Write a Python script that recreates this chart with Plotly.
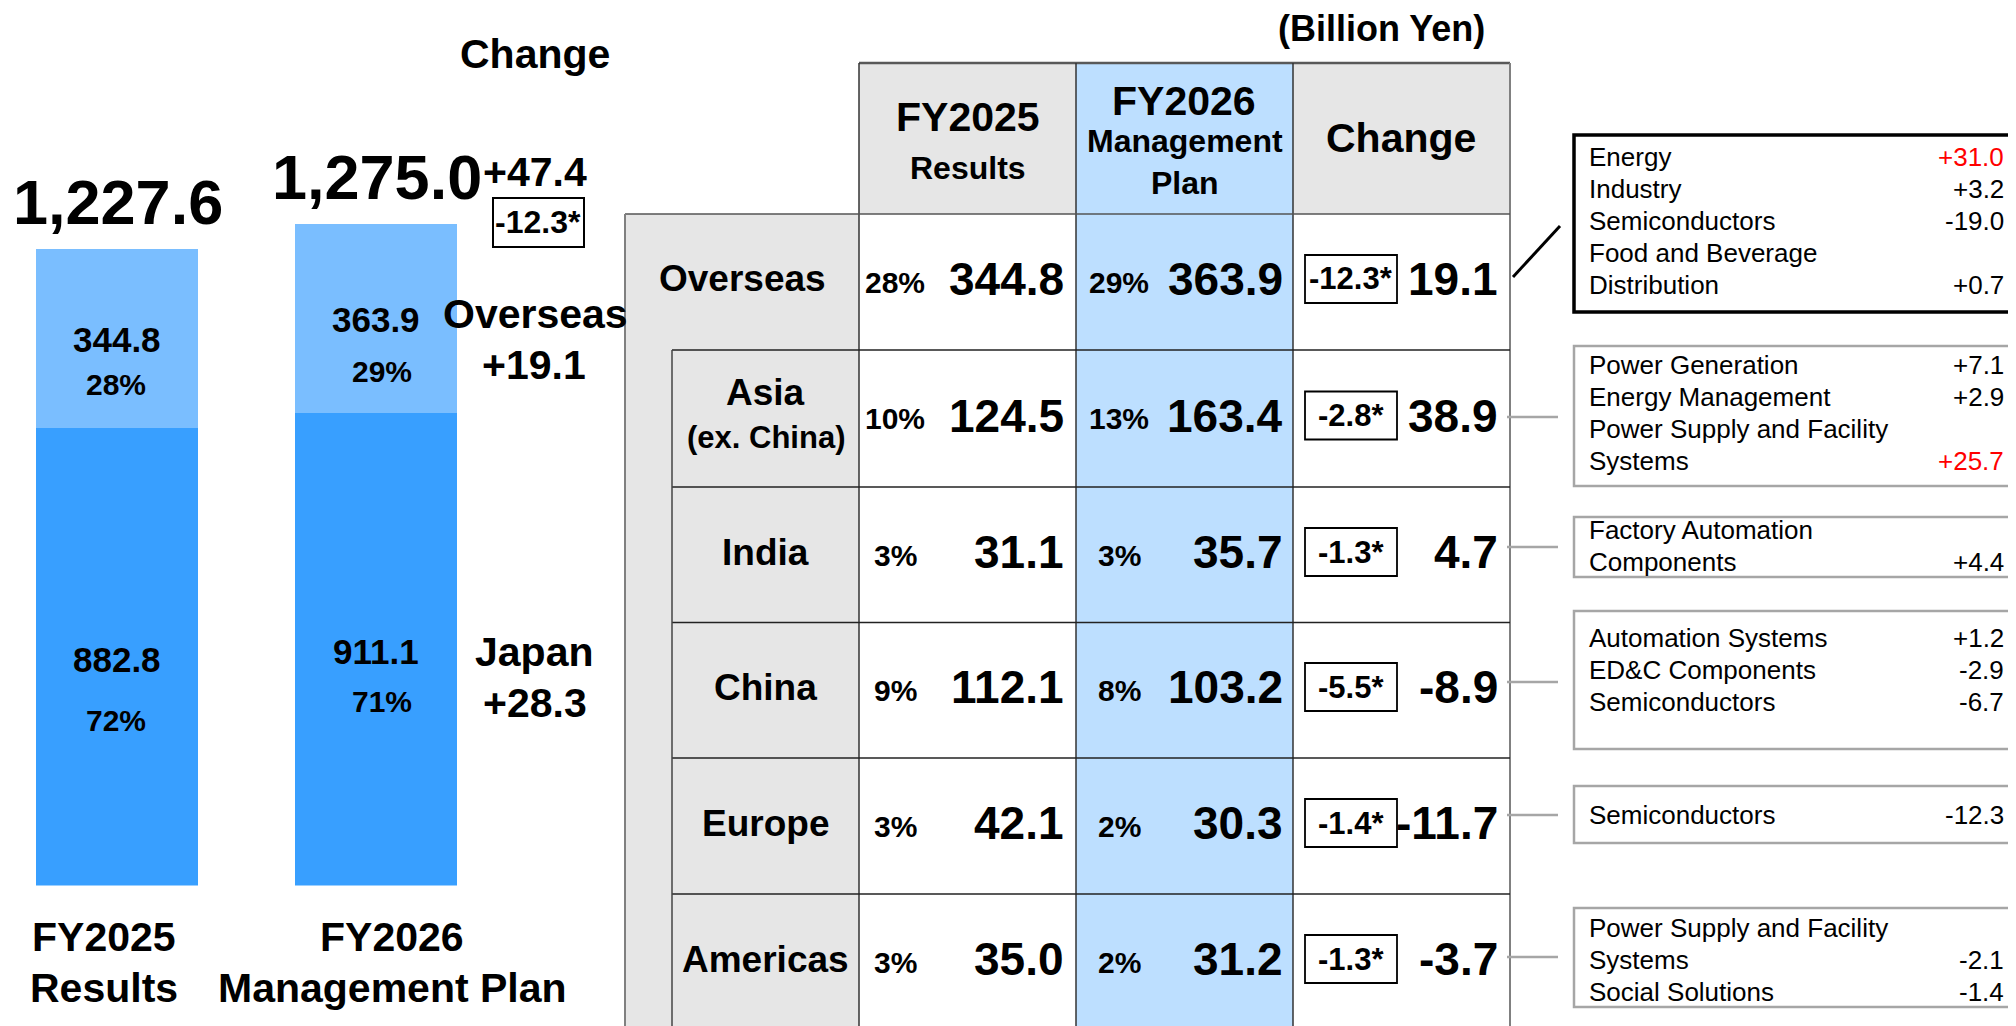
import plotly.graph_objects as go

# ---------------- data ----------------
bar_categories = ["FY2025<br>Results", "FY2026<br>Management Plan"]
japan_sales = [882.8, 911.1]
overseas_sales = [344.8, 363.9]
japan_share = [72, 71]
overseas_share = [28, 29]
total_sales = [1227.6, 1275.0]
total_change = 47.4
total_fx = -12.3
overseas_change = 19.1
japan_change = 28.3

regions = ["Overseas", "Asia", "India", "China", "Europe", "Americas"]
region_sub = ["", "(ex. China)", "", "", "", ""]
share_fy25 = [28, 10, 3, 9, 3, 3]
sales_fy25 = [344.8, 124.5, 31.1, 112.1, 42.1, 35.0]
share_fy26 = [29, 13, 3, 8, 2, 2]
sales_fy26 = [363.9, 163.4, 35.7, 103.2, 30.3, 31.2]
fx_impact = [-12.3, -2.8, -1.3, -5.5, -1.4, -1.3]
region_change = [19.1, 38.9, 4.7, -8.9, -11.7, -3.7]

segment_names = [
    ["Energy", "Industry", "Semiconductors", "Food and Beverage|Distribution"],
    ["Power Generation", "Energy Management", "Power Supply and Facility|Systems"],
    ["Factory Automation|Components"],
    ["Automation Systems", "ED&C Components", "Semiconductors"],
    ["Semiconductors"],
    ["Power Supply and Facility|Systems", "Social Solutions"],
]
segment_values = [
    [31.0, 3.2, -19.0, 0.7],
    [7.1, 2.9, 25.7],
    [4.4],
    [1.2, -2.9, -6.7],
    [-12.3],
    [-2.1, -1.4],
]
segment_highlight = [
    [True, False, False, False],
    [False, False, True],
    [False],
    [False, False, False],
    [False],
    [False, False],
]

# ---------------- styling / layout constants ----------------
PAGE_OFF = 8                      # default body margin of the html page
W, H = 2016 - PAGE_OFF, 1026 - PAGE_OFF
DARK_BLUE = "#389fff"
LIGHT_BLUE = "#7abeff"
TABLE_BLUE = "#bddfff"
GRAY = "#e6e6e6"
FONT = "Liberation Sans, Arial, sans-serif"


def px(x):
    return (x - PAGE_OFF) / W


def py(y):
    return 1 - (y - PAGE_OFF) / H


def fmt_signed(v):
    return f"{v:+.1f}"


fig = go.Figure()

# ---------------- stacked bars ----------------
BAR_W = 0.627
fig.add_trace(go.Bar(x=[0, 1], y=japan_sales, marker=dict(color=DARK_BLUE, line=dict(width=0)),
                     width=BAR_W, hoverinfo="skip", name="Japan"))
fig.add_trace(go.Bar(x=[0, 1], y=overseas_sales, marker=dict(color=LIGHT_BLUE, line=dict(width=0)),
                     width=BAR_W, hoverinfo="skip", name="Overseas"))

unit_px = 259.0
bar0_center = 117.0
x_lo, x_hi = -0.42, 1.45
y_bottom_px = 885.5
px_per_val = 0.5185
y_max = 1650

ann = []


def text(x, y, s, size, bold=True, color="black", xanchor="center", **kw):
    ann.append(dict(x=px(x), y=py(y), xref="paper", yref="paper", text=(f"<b>{s}</b>" if bold else s),
                    showarrow=False, xanchor=xanchor, yanchor="middle",
                    font=dict(size=size, color=color, family=FONT), **kw))


# labels inside bars (data coordinates)
num_shift = [[-1, -3], [-1, -2]]        # [bar][overseas, japan]
pct_shift = [[-46, -64], [-53, -52]]
pct_xshift = [-1, 6]
for i in range(2):
    segs = [(japan_sales[i] + overseas_sales[i] / 2, overseas_sales[i], overseas_share[i], 0),
            (japan_sales[i] / 2, japan_sales[i], japan_share[i], 1)]
    for mid, val, share, k in segs:
        ann.append(dict(x=i, y=mid, xref="x", yref="y", text=f"<b>{val:.1f}</b>", showarrow=False,
                        yanchor="middle", yshift=num_shift[i][k],
                        font=dict(size=35, family=FONT, color="black")))
        ann.append(dict(x=i, y=mid, xref="x", yref="y", text=f"<b>{share}%</b>", showarrow=False,
                        yanchor="middle", yshift=pct_shift[i][k], xshift=pct_xshift[i],
                        font=dict(size=30, family=FONT, color="black")))
    ann.append(dict(x=i, y=total_sales[i], xref="x", yref="y", text=f"<b>{total_sales[i]:,.1f}</b>",
                    showarrow=False, yanchor="middle", yshift=47, xshift=1,
                    font=dict(size=63, family=FONT, color="black")))

# category labels under bars
cat_x = [104, 392]
for i, c in enumerate(bar_categories):
    l1, l2 = c.split("<br>")
    text(cat_x[i], 937, l1, 41)
    text(cat_x[i], 988, l2, 41)

# change column of the bar chart
text(535, 54, "Change", 41)
text(535, 172, fmt_signed(total_change), 41)
text(538, 222, f"{total_fx:.1f}*", 32)
text(535, 314, "Overseas", 41)
text(534, 365, fmt_signed(overseas_change), 41)
text(534, 652, "Japan", 41)
text(535, 703, fmt_signed(japan_change), 41)

shapes = []


def rect(x0, y0, x1, y1, fill="rgba(0,0,0,0)", lc="rgba(0,0,0,0)", lw=0, layer="below"):
    shapes.append(dict(type="rect", xref="paper", yref="paper", x0=px(x0), x1=px(x1), y0=py(y1), y1=py(y0),
                       fillcolor=fill, line=dict(color=lc, width=lw), layer=layer))


def line(x0, y0, x1, y1, color, w):
    shapes.append(dict(type="line", xref="paper", yref="paper", x0=px(x0), x1=px(x1), y0=py(y0), y1=py(y1),
                       line=dict(color=color, width=w), layer="above"))


rect(493, 198, 584, 247, fill="white", lc="black", lw=2, layer="above")

# ---------------- table ----------------
C0, C1, C2, C3 = 859, 1076, 1293, 1510
L0, L1 = 625, 672
HT, HB = 63, 214
row_edges = [214, 350, 487, 622.5, 758, 894, 1040]

rect(C0, HT, C1, HB, fill=GRAY)
rect(C1, HT, C2, row_edges[-1], fill=TABLE_BLUE)
rect(C2, HT, C3, HB, fill=GRAY)
rect(L0, HB, C0, row_edges[-1], fill=GRAY)

line(C0, HT, C3, HT, "#595959", 2.5)
for xv in [C0, C1, C2]:
    line(xv, HT, xv, row_edges[-1], "#333333", 1.5)
line(C3, HT, C3, row_edges[-1], "#808080", 2)
line(L0, HB, C3, HB, "#555555", 1.5)
for yv in row_edges[1:-1]:
    line(L1, yv, C3, yv, "#222222", 1.5)
line(L0, HB, L0, row_edges[-1], "#808080", 2)
line(L1, row_edges[1], L1, row_edges[-1], "#444444", 1.5)

text(1381, 29, "(Billion Yen)", 36)
text(968, 117, "FY2025", 41)
text(968, 168, "Results", 32)
text(1184, 101, "FY2026", 41)
text(1185, 141, "Management", 32)
text(1185, 183, "Plan", 32)
text(1401, 138, "Change", 41)

row_centers = [282, 418.5, 555, 690, 826, 962]
for i in range(len(regions)):
    yc = row_centers[i] - 3
    lx = (L0 + C0) / 2 if i == 0 else (L1 + C0) / 2
    if region_sub[i]:
        text(lx, yc - 23, regions[i], 37)
        text(lx, yc + 22, region_sub[i], 31)
    else:
        text(lx, yc, regions[i], 37)
    text(895, yc + 3, f"{share_fy25[i]}%", 30)
    text(1066, yc, f"{sales_fy25[i]:.1f}", 46, xanchor="right")
    text(1119, yc + 3, f"{share_fy26[i]}%", 30)
    text(1285, yc, f"{sales_fy26[i]:.1f}", 46, xanchor="right")
    rect(1305, yc - 24, 1397, yc + 24, fill="white", lc="black", lw=1.8, layer="above")
    text(1351, yc, f"{fx_impact[i]:.1f}*", 31)
    text(1500, yc, f"{region_change[i]:.1f}", 46, xanchor="right")

# ---------------- segment detail boxes ----------------
box_tops = [135, 346, 517, 611, 786, 908]
box_bottoms = [312, 486, 577, 749, 843, 1007]
first_line = [157, 365, 530, 638, 815, 928]
connector_y = [None, 417, 547, 682, 815, 957]
LINE_H = 32
BX0, BX1 = 1574, 2012
for b in range(len(box_tops)):
    if b == 0:
        rect(BX0, box_tops[b], 2014, box_bottoms[b], lc="black", lw=3.5, layer="above")
        line(1513, 277, 1560, 226, "black", 3)
    else:
        rect(BX0, box_tops[b], BX1, box_bottoms[b], lc="#a6a6a6", lw=2.5, layer="above")
        line(1507, connector_y[b], 1558, connector_y[b], "#a6a6a6", 2.5)
    yl = first_line[b]
    for name, val, hl in zip(segment_names[b], segment_values[b], segment_highlight[b]):
        parts = name.split("|")
        for p in parts:
            text(1587, yl, p, 26, bold=False, xanchor="left")
            yl += LINE_H
        text(2006, yl - LINE_H, fmt_signed(val), 26, bold=False, xanchor="right",
             color="#ff0000" if hl else "black")

fig.update_layout(
    width=W, height=H, margin=dict(l=0, r=0, t=0, b=0),
    paper_bgcolor="white", plot_bgcolor="white",
    barmode="stack", bargap=0, showlegend=False,
    xaxis=dict(domain=[px(bar0_center + x_lo * unit_px), px(bar0_center + x_hi * unit_px)],
               range=[x_lo, x_hi], visible=False, fixedrange=True),
    yaxis=dict(domain=[py(y_bottom_px), py(y_bottom_px - y_max * px_per_val)],
               range=[0, y_max], visible=False, fixedrange=True),
    annotations=ann, shapes=shapes,
)

fig.write_html("out.html")
